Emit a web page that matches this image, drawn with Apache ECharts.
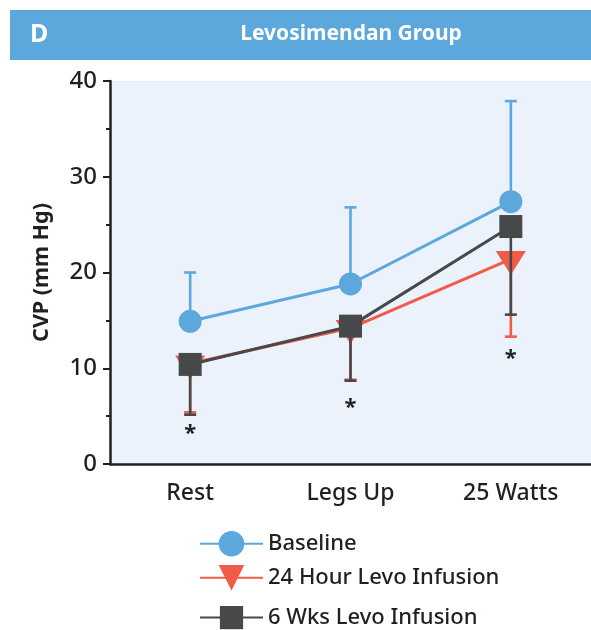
<!DOCTYPE html>
<html>
<head>
<meta charset="utf-8">
<script src="https://cdn.jsdelivr.net/npm/echarts@6/dist/echarts.min.js"></script>
<style>html,body{margin:0;padding:0;background:#fff}#c{width:591px;height:630px}</style>
</head>
<body>
<div id="c"></div>
<script>
var categories = ['Rest', 'Legs Up', '25 Watts'];
var baseline = [14.9, 18.8, 27.4];
var baselineUpper = [20.0, 26.8, 37.9];
var levo24 = [10.5, 14.2, 21.4];
var levo24Lower = [5.4, 8.8, 13.3];
var levo6wk = [10.4, 14.4, 24.8];
var levo6wkLower = [5.15, 8.7, 15.6];
var asteriskAt = [3.8, 6.5, 11.6];
var yTicks = [0, 10, 20, 30, 40];

var names = ['Baseline', '24 Hour Levo Infusion', '6 Wks Levo Infusion'];
var colors = ['#5CA8DC', '#F05C47', '#47484A'];
var FONT = 'Noto Sans';
var triPath = 'path://M0,0 L12,0 L6,10 Z';

function errSeries(vals, ends, color, z) {
  var d = vals.map(function (v, i) { return [i, v, ends[i]]; });
  return {
    type: 'custom', z: z, silent: true,
    data: d,
    renderItem: function (params, api) {
      var a = api.coord([api.value(0), api.value(1)]);
      var b = api.coord([api.value(0), api.value(2)]);
      var w = 6;
      return {
        type: 'group',
        children: [
          { type: 'line', shape: { x1: a[0], y1: a[1], x2: b[0], y2: b[1] }, style: { stroke: color, lineWidth: 2.6 } },
          { type: 'line', shape: { x1: b[0] - w, y1: b[1], x2: b[0] + w, y2: b[1] }, style: { stroke: color, lineWidth: 2.6 } }
        ]
      };
    }
  };
}

var legendText = { color: '#231F20', fontFamily: FONT, fontSize: 22, fontWeight: 500 };
var chart = echarts.init(document.getElementById('c'), null, { renderer: 'canvas' });
chart.setOption({
  animation: false,
  backgroundColor: '#ffffff',
  graphic: [
    { type: 'rect', left: 10, top: 10, shape: { width: 581, height: 50 }, style: { fill: '#5CA7DB' }, z: -1 },
    { type: 'rect', left: 110, top: 81, shape: { width: 481, height: 383 }, style: { fill: '#EBF2FB' }, z: -1 }
  ],
  title: [
    { text: 'D', left: 30, top: 22, padding: 0, textStyle: { color: '#fff', fontFamily: FONT, fontWeight: 'bold', fontSize: 25 } },
    { text: 'Levosimendan Group', left: 351, top: 24, padding: 0, textAlign: 'center', textStyle: { color: '#fff', fontFamily: FONT, fontWeight: 'bold', fontSize: 21 } }
  ],
  grid: { left: 110, right: 0, top: 81, bottom: 166, containLabel: false },
  xAxis: {
    type: 'category', data: categories, boundaryGap: true,
    axisLine: { lineStyle: { color: '#231F20', width: 2.5 } },
    axisTick: { alignWithLabel: true, length: 6, lineStyle: { color: '#231F20', width: 2 } },
    axisLabel: { color: '#231F20', fontFamily: FONT, fontSize: 23, fontWeight: 500, margin: 18 }
  },
  yAxis: {
    type: 'value', min: 0, max: 40, interval: 10,
    name: 'CVP (mm Hg)', nameLocation: 'middle', nameGap: 57,
    nameTextStyle: { color: '#231F20', fontFamily: FONT, fontWeight: 'bold', fontSize: 21.5 },
    axisLine: { show: true, lineStyle: { color: '#231F20', width: 2.5 } },
    axisTick: { show: true, length: 7, lineStyle: { color: '#231F20', width: 2 } },
    minorTick: { show: true, splitNumber: 2, length: 4, lineStyle: { color: '#231F20', width: 2 } },
    splitLine: { show: false },
    axisLabel: { color: '#231F20', fontFamily: FONT, fontSize: 24, fontWeight: 500, margin: 13,
      formatter: function (v) { return yTicks.indexOf(v) >= 0 ? String(v) : ''; } }
  },
  legend: [
    { data: [names[0]], orient: 'vertical', left: 199, top: 531, padding: 0, itemWidth: 63, itemHeight: 32, itemGap: 0, textStyle: legendText },
    { data: [names[1]], orient: 'vertical', left: 199, top: 565, padding: 0, itemWidth: 63, itemHeight: 32, itemGap: 0, textStyle: legendText },
    { data: [names[2]], orient: 'vertical', left: 199, top: 606, padding: 0, itemWidth: 63, itemHeight: 29, itemGap: 0, textStyle: legendText }
  ],
  series: [
    errSeries(baseline, baselineUpper, colors[0], 1),
    { name: names[0], type: 'line', data: baseline, z: 2, symbol: 'circle', symbolSize: 23,
      itemStyle: { color: colors[0] }, lineStyle: { color: colors[0], width: 3 } },
    errSeries(levo24, levo24Lower, colors[1], 3),
    { name: names[1], type: 'line', data: levo24, z: 4, symbol: triPath, symbolSize: [30, 24], symbolOffset: [0, 4],
      itemStyle: { color: colors[1] }, lineStyle: { color: colors[1], width: 3 } },
    errSeries(levo6wk, levo6wkLower, colors[2], 5),
    { name: names[2], type: 'line', data: levo6wk, z: 6, symbol: 'rect', symbolSize: 23,
      itemStyle: { color: colors[2] }, lineStyle: { color: colors[2], width: 3 } },
    { type: 'custom', z: 7, silent: true,
      data: asteriskAt.map(function (v, i) { return [i, v]; }),
      renderItem: function (params, api) {
        var p = api.coord([api.value(0), api.value(1)]);
        return { type: 'text', style: { text: '*', x: p[0], y: p[1] + 6, align: 'center', verticalAlign: 'middle',
          fill: '#231F20', font: 'bold 22px "' + FONT + '"' } };
      }
    }
  ]
});
</script>
</body>
</html>
